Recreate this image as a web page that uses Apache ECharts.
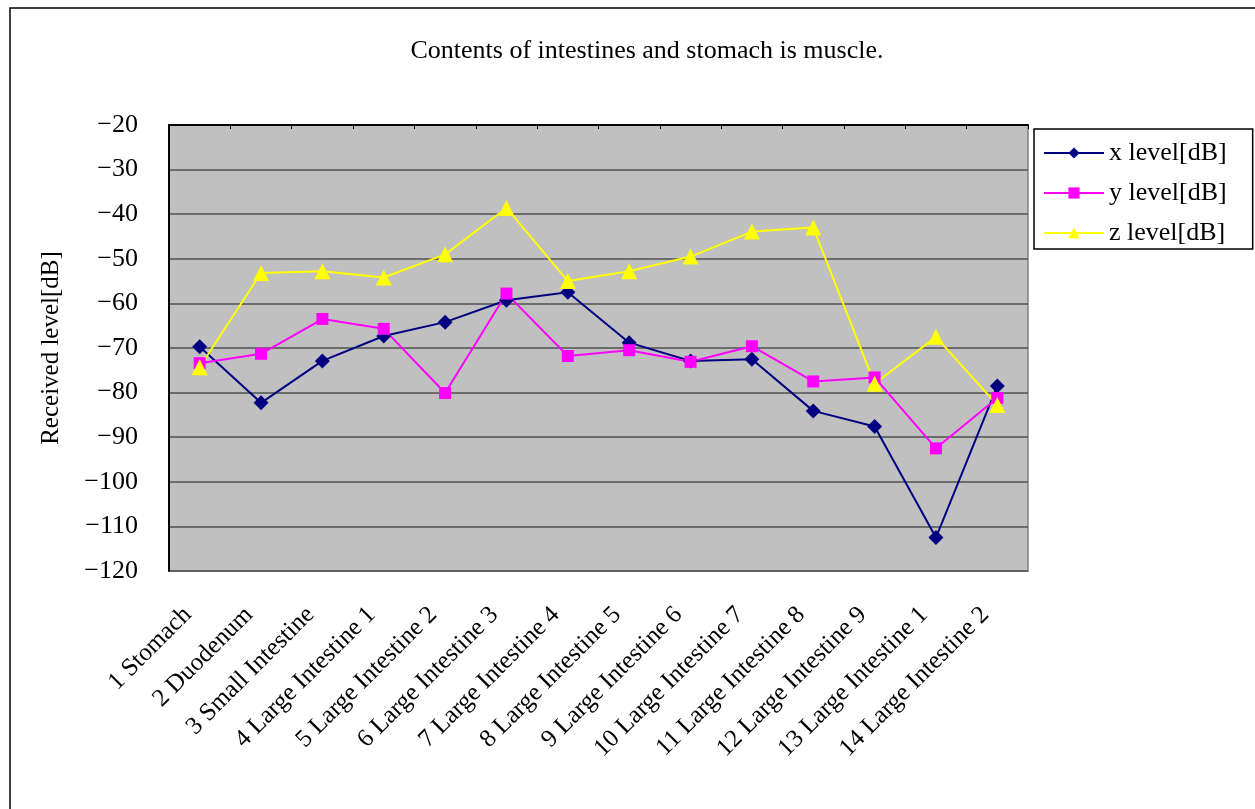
<!DOCTYPE html>
<html>
<head>
<meta charset="utf-8">
<script src="https://cdn.jsdelivr.net/npm/echarts@6/dist/echarts.min.js"></script>
<style>html,body{margin:0;padding:0;background:#fff}#c{width:1255px;height:809px}</style>
</head>
<body>
<div id="c"></div>
<script>
const categories = ["1 Stomach","2 Duodenum","3 Small Intestine","4 Large Intestine 1","5 Large Intestine 2","6 Large Intestine 3","7 Large Intestine 4","8 Large Intestine 5","9 Large Intestine 6","10 Large Intestine 7","11 Large Intestine 8","12 Large Intestine 9","13 Large Intestine 1","14 Large Intestine 2"];
const xLevel = [-69.7,-82.3,-72.9,-67.3,-64.2,-59.3,-57.5,-68.8,-72.9,-72.5,-84.1,-87.6,-112.5,-78.5];
const yLevel = [-73.4,-71.3,-63.5,-65.7,-80.1,-57.8,-71.8,-70.5,-73.1,-69.6,-77.5,-76.6,-92.5,-81.2];
const zLevel = [-74.3,-53.2,-52.8,-54.2,-49.0,-38.6,-55.0,-52.8,-49.5,-43.9,-43.0,-78.0,-67.5,-82.8];
const seriesNames = ["x level[dB]","y level[dB]","z level[dB]"];
const yTicks = {min:-120, max:-20, interval:10};

const FONT = "Liberation Serif";
const chart = echarts.init(document.getElementById('c'));
const mk = (name, data, color, symbol, size) => ({
  name, type:'line', data, xAxisIndex:0,
  symbol, symbolSize:size,
  lineStyle:{color, width:2},
  itemStyle:{color},
  animation:false
});
chart.setOption({
  animation:false,
  backgroundColor:'#ffffff',
  title:{text:'Contents of intestines and stomach is muscle.', left:642, textAlign:'center', top:33,
    textStyle:{fontFamily:FONT, fontSize:26, fontWeight:'normal', color:'#000'}},
  legend:{orient:'vertical', left:1034, top:129, itemWidth:60, itemHeight:14, itemGap:14,
    padding:[11,26,3,9], borderColor:'#000', borderWidth:1.5,
    textStyle:{fontFamily:FONT, fontSize:26, lineHeight:26, color:'#000'},
    data:seriesNames},
  grid:{left:169, top:125, right:227, bottom:238, show:true, backgroundColor:'#C0C0C0', borderColor:'#808080', borderWidth:1.5},
  xAxis:[
    {type:'category', data:categories, position:'bottom', boundaryGap:true,
      axisLine:{show:false}, axisTick:{show:false},
      axisLabel:{rotate:45, interval:0, margin:28, padding:[0,17,0,0], fontFamily:FONT, fontSize:25, color:'#000'}},
    {type:'category', data:categories, position:'top', boundaryGap:true,
      axisLine:{show:true, lineStyle:{color:'#000', width:2}},
      axisTick:{show:true, interval:0, inside:true, length:4, lineStyle:{color:'#000'}},
      axisLabel:{show:false}}
  ],
  yAxis:{type:'value', min:yTicks.min, max:yTicks.max, interval:yTicks.interval,
    name:'Received level[dB]', nameLocation:'middle', nameGap:105, nameRotate:90,
    nameTextStyle:{fontFamily:FONT, fontSize:25, color:'#000'},
    axisLine:{show:true, lineStyle:{color:'#000', width:2}},
    axisTick:{show:false},
    axisLabel:{fontFamily:FONT, fontSize:26, color:'#000', margin:31,
      formatter:v=>String(v).replace('-','\u2212')},
    splitLine:{show:true, lineStyle:{color:'#505050', width:1.5}}},
  series:[
    mk(seriesNames[0], xLevel, '#000080', 'diamond', 15),
    mk(seriesNames[1], yLevel, '#FF00FF', 'rect', 12),
    mk(seriesNames[2], zLevel, '#FFFF00', 'triangle', 16)
  ],
  graphic:[{type:'rect', shape:{x:10, y:8, width:1270, height:820}, style:{fill:'none', stroke:'#000', lineWidth:1.5}, silent:true}]
});
</script>
</body>
</html>
